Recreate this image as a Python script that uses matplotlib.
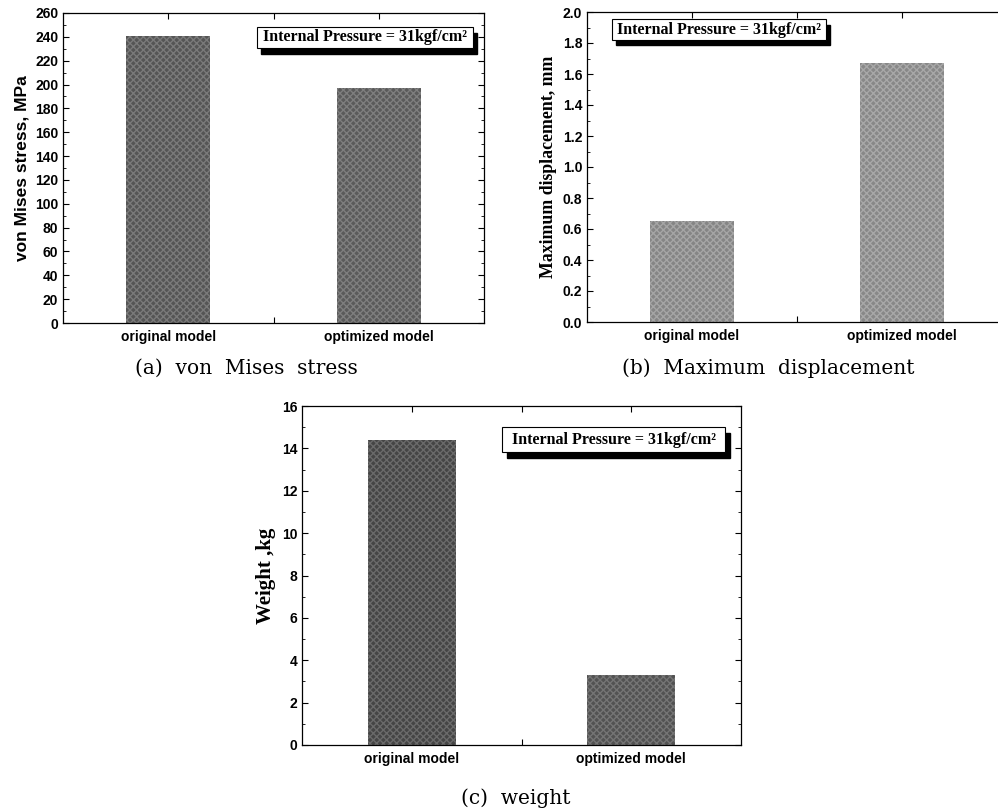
import matplotlib
matplotlib.use("Agg")
import matplotlib.pyplot as plt
from matplotlib.patches import Rectangle
from matplotlib.ticker import MultipleLocator

# 数据
models = ["original model", "optimized model"]
stress = [241, 197]          # von Mises stress, MPa
displacement = [0.65, 1.67]  # Maximum displacement, mm
weight = [14.4, 3.3]         # Weight, kg
note = "Internal Pressure = 31kgf/cm²"

W, H = 998, 811
SANS = ["Liberation Sans", "DejaVu Sans"]
SERIF = ["Liberation Serif", "DejaVu Serif"]


def px_axes(fig, left, right, top, bottom):
    """按像素位置建坐标轴"""
    return fig.add_axes([left / W, (H - bottom) / H, (right - left) / W, (bottom - top) / H])


def pressure_box(ax, x0, x1, y0, y1):
    """带阴影的标注框"""
    dx, dy = 0.010, -0.018
    ax.add_patch(Rectangle((x0 + dx, y0 + dy), x1 - x0, y1 - y0, transform=ax.transAxes,
                           facecolor="black", edgecolor="black", zorder=5, clip_on=False))
    ax.add_patch(Rectangle((x0, y0), x1 - x0, y1 - y0, transform=ax.transAxes,
                           facecolor="white", edgecolor="black", lw=0.8, zorder=6, clip_on=False))
    ax.text((x0 + x1) / 2, (y0 + y1) / 2, note, transform=ax.transAxes, ha="center", va="center",
            family=SERIF, fontweight="bold", fontsize=11.5, zorder=7)


def draw_panel(ax, values, colors, ymax, major, minor, ylabel, yfont, yfmt):
    x = [1, 2]
    for xi, v, c in zip(x, values, colors):
        ax.bar(xi, v, width=0.4, color=c[0], edgecolor=c[1], hatch="xxxxx", linewidth=0, zorder=2)
    ax.set_xlim(0.5, 2.5)
    ax.set_ylim(0, ymax)
    ax.set_xticks([1, 1.5, 2])
    ax.set_xticklabels([models[0], "", models[1]], family=SANS, fontweight="bold", fontsize=10)
    ax.yaxis.set_major_locator(MultipleLocator(major))
    ax.yaxis.set_minor_locator(MultipleLocator(minor))
    ax.set_yticklabels([yfmt % t for t in ax.get_yticks()], family=SANS, fontweight="bold", fontsize=10)
    ax.set_ylim(0, ymax)
    ax.tick_params(which="both", direction="in", top=True, right=True)
    ax.tick_params(which="major", length=4, width=0.8)
    ax.tick_params(which="minor", length=2, width=0.6)
    ax.tick_params(axis="x", pad=5)
    for s in ax.spines.values():
        s.set_linewidth(0.9)
    ax.set_ylabel(ylabel, fontweight="bold", **yfont)


def main():
    fig = plt.figure(figsize=(W / 100, H / 100), dpi=100)

    # (a) 应力
    ax1 = px_axes(fig, 63, 484, 13, 323)
    draw_panel(ax1, stress, [("#555555", "#7a7a7a"), ("#5a5a5a", "#7e7e7e")], 260, 20, 10,
               "von Mises stress, MPa", dict(family=SANS, fontsize=12.5), "%d")
    pressure_box(ax1, 0.461, 0.974, 0.887, 0.955)
    fig.text(246 / W, 1 - 368 / H, "(a)  von  Mises  stress", ha="center", va="center",
             family=["DejaVu Serif"], fontsize=14.5)

    # (b) 位移
    ax2 = px_axes(fig, 587, 1007, 12, 322)
    draw_panel(ax2, displacement, [("#858585", "#a5a5a5"), ("#888888", "#a8a8a8")], 2.0, 0.2, 0.1,
               "Maximum displacement, mm", dict(family=SERIF, fontsize=12.8), "%.1f")
    pressure_box(ax2, 0.060, 0.569, 0.910, 0.977)
    fig.text(768 / W, 1 - 368 / H, "(b)  Maximum  displacement", ha="center", va="center",
             family=["DejaVu Serif"], fontsize=14.5)

    # (c) 重量
    ax3 = px_axes(fig, 302, 741, 406, 745)
    draw_panel(ax3, weight, [("#454545", "#6a6a6a"), ("#525252", "#747474")], 16, 2, 1,
               "Weight ,kg", dict(family=SERIF, fontsize=15), "%d")
    pressure_box(ax3, 0.456, 0.964, 0.864, 0.938)
    fig.text(516 / W, 1 - 798 / H, "(c)  weight", ha="center", va="center",
             family=["DejaVu Serif"], fontsize=14.5)

    fig.savefig("out.png", dpi=100)


if __name__ == "__main__":
    main()
